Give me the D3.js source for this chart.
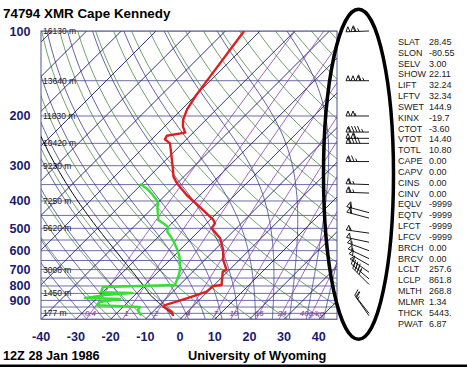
<!DOCTYPE html>
<html><head><meta charset="utf-8">
<script src="https://cdn.jsdelivr.net/npm/d3@7"></script>
<style>
html,body{margin:0;padding:0;background:#fff;}
svg{display:block;}
</style></head>
<body>
<svg id="c" width="467" height="367"></svg>
<script>
// ---------------- data ----------------
const title = "74794 XMR Cape Kennedy";
const dateLabel = "12Z 28 Jan 1986";
const sourceLabel = "University of Wyoming";
const pressureTicks = [100,200,300,400,500,600,700,800,900];
const tempTicks = [-40,-30,-20,-10,0,10,20,30,40];
const heightLevels = [100,150,200,250,300,400,500,700,850,1000];
const heightLabels = ["16130 m","13640 m","11830 m","10420 m","9230 m","7250 m","5620 m","3008 m","1450 m","177 m"];
const mixingRatios = [0.4,1,2,4,7,10,16,24,40];
const mixingLabels = ["0.4","1","2","4","7","10","16","24","40g/kg"];

const tempPres = [1020,987,948,935,885,838,800,794,712,702,648,597,542,500,480,467,431,381,346,328,311,271,250,242,235,229,218,207,190,171,153,100];
const tempVals = [-3.0,-4.6,-8.4,-8.4,-4.1,-0.3,0.0,2.1,-1.4,-0.8,-4.6,-7.5,-11.8,-17.1,-17.6,-19.0,-24.8,-33.9,-40.1,-43.0,-45.0,-50.4,-53.6,-56.2,-56.7,-52.3,-54.7,-56.5,-58.4,-59.8,-60.8,-64.6];

const dewPres = [1020,974,950,935,912,890,883,861,847,841,807,794,742,702,630,597,558,535,514,494,480,467,455,425,408,397,376,361,348];
const dewVals = [-12.2,-14.8,-15.1,-28.0,-28.0,-23.1,-33.5,-28.6,-21.4,-30.6,-31.5,-11.3,-12.8,-14.2,-18.2,-20.7,-24.1,-26.5,-28.9,-30.1,-32.5,-34.9,-35.8,-38.5,-39.7,-41.1,-44.5,-47.3,-50.5];

const windPres = [100,150,200,228,240,250,290,350,375,440,460,520,560,600,640,675,715,755,790,1000,1020];
const windDir  = [268,270,270,270,270,270,270,272,272,285,285,278,282,290,295,300,305,310,315,322,325];
const windSpd  = [115,165,105,95,110,90,75,65,65,60,60,55,50,55,55,50,50,45,40,20,15];

const indexNames  = ["SLAT","SLON","SELV","SHOW","LIFT","LFTV","SWET","KINX","CTOT","VTOT","TOTL","CAPE","CAPV","CINS","CINV","EQLV","EQTV","LFCT","LFCV","BRCH","BRCV","LCLT","LCLP","MLTH","MLMR","THCK","PWAT"];
const indexValues = ["28.45","-80.55","3.00","22.11","32.24","32.34","144.9","-19.7","-3.60","14.40","10.80","0.00","0.00","0.00","0.00","-9999","-9999","-9999","-9999","0.00","0.00","257.6","861.8","268.8","1.34","5443.","6.87"];

// ---------------- layout ----------------
const plotL = 41, plotR = 337, plotT = 31, plotB = 319.3;
const yScale = d3.scaleLog().domain([100,1050]).range([plotT, plotB]);
const tScale = d3.scaleLinear().domain([-40,40]).range([41.2, 318.8]);
const skewX = (T,p) => tScale(T) + (plotB - yScale(p));
const navy = "#1c1c6c";

const svg = d3.select("#c");
svg.append("rect").attr("width",467).attr("height",367).attr("fill","#fff");

const defs = svg.append("defs");
defs.append("clipPath").attr("id","clip").append("rect")
  .attr("x",plotL).attr("y",plotT).attr("width",plotR-plotL).attr("height",plotB-plotT);

const bg = svg.append("g").attr("clip-path","url(#clip)");
const line = d3.line().x(d=>skewX(d[1],d[0])).y(d=>yScale(d[0]));

// thermo helpers (for guide lines)
const es = Tc => 6.112*Math.exp(17.67*Tc/(Tc+243.5));
const tdFromE = e => { const l=Math.log(e/6.112); return 243.5*l/(17.67-l); };
function dTdp(p,T){
  const Tc=T-273.15, e=es(Tc), rs=0.622*e/(p-e);
  const Rd=287.04, cp=1005.7, Lv=2.501e6;
  return (Rd*T + Lv*rs)/(p*(cp + Lv*Lv*rs*0.622/(Rd*T*T)));
}
function moist(p0,T0K,pEnd,step){
  const pts=[]; let p=p0, T=T0K;
  pts.push([p,T-273.15]);
  while((step<0 && p>pEnd) || (step>0 && p<pEnd)){
    const k1=dTdp(p,T), k2=dTdp(p+step/2,T+k1*step/2), k3=dTdp(p+step/2,T+k2*step/2), k4=dTdp(p+step,T+k3*step);
    T += step*(k1+2*k2+2*k3+k4)/6; p += step;
    pts.push([p,T-273.15]);
  }
  return pts;
}
const pLevels = d3.range(1050,99,-10);

// isobars
d3.range(100,1051,50).forEach(p=>{
  bg.append("line").attr("x1",plotL).attr("x2",plotR).attr("y1",yScale(p)).attr("y2",yScale(p))
    .attr("stroke","#6e6ea8").attr("stroke-width",1);
});
// dry adiabats
d3.range(230,470,10).forEach(th=>{
  const pts = pLevels.map(p=>[p, th*Math.pow(p/1000,0.2857)-273.15]);
  bg.append("path").attr("d",line(pts)).attr("fill","none").attr("stroke","#4a8c4a").attr("stroke-width",0.8);
});
// moist adiabats
d3.range(-30,45,5).forEach(t0=>{
  const up = moist(1000,t0+273.15,100,-5);
  const dn = moist(1000,t0+273.15,1050,5).reverse();
  const pts = dn.concat(up.slice(1));
  bg.append("path").attr("d",line(pts)).attr("fill","none").attr("stroke","#3a3a8a").attr("stroke-width",0.8);
});
// isotherms
d3.range(-130,51,10).forEach(T=>{
  bg.append("line").attr("x1",skewX(T,1050)).attr("y1",yScale(1050)).attr("x2",skewX(T,100)).attr("y2",yScale(100))
    .attr("stroke","#1e1e70").attr("stroke-width",0.9);
});
// mixing ratio lines
mixingRatios.forEach(w=>{
  const pts = pLevels.map(p=>[p, tdFromE(w*p/(622+w))]);
  bg.append("path").attr("d",line(pts)).attr("fill","none").attr("stroke","#8a3cb0").attr("stroke-width",0.8);
});

// border
svg.append("rect").attr("x",plotL).attr("y",plotT).attr("width",plotR-plotL).attr("height",plotB-plotT)
  .attr("fill","none").attr("stroke","#505090").attr("stroke-width",1);

// height labels
heightLevels.forEach((p,i)=>{
  svg.append("text").attr("x",43).attr("y",yScale(p)+3).text(heightLabels[i])
    .attr("font-family","Liberation Sans, Arial, sans-serif").attr("font-size",8.5).attr("fill","#222");
});
// mixing ratio labels
mixingRatios.forEach((w,i)=>{
  svg.append("text").attr("x",skewX(tdFromE(w*1000/(622+w)),1000)).attr("y",yScale(1000)+3)
    .attr("text-anchor","middle").text(mixingLabels[i])
    .attr("font-family","Liberation Sans, Arial, sans-serif").attr("font-size",8).attr("font-style","italic").attr("fill","#7a30a0");
});

// parcel path from indices
const MLTH = +indexValues[indexNames.indexOf("MLTH")];
const LCLP = +indexValues[indexNames.indexOf("LCLP")];
const LCLT = +indexValues[indexNames.indexOf("LCLT")];
const parcelDry = d3.range(tempPres[0], LCLP, -5).map(p=>[p, MLTH*Math.pow(p/1000,0.2857)-273.15]).concat([[LCLP, LCLT-273.15]]);
const parcel = parcelDry.concat(moist(LCLP, LCLT, 100, -5).slice(1));
const dataG = svg.append("g").attr("clip-path","url(#clip)");
dataG.append("path").attr("d",line(parcel)).attr("fill","none").attr("stroke","#000").attr("stroke-width",1);

// temperature & dewpoint
dataG.append("path").attr("d",line(tempPres.map((p,i)=>[p,tempVals[i]])))
  .attr("fill","none").attr("stroke","#dd1f1f").attr("stroke-width",2.4).attr("stroke-linejoin","round");
dataG.append("path").attr("d",line(dewPres.map((p,i)=>[p,dewVals[i]])))
  .attr("fill","none").attr("stroke","#35e035").attr("stroke-width",2.4).attr("stroke-linejoin","round");

// axis labels
const boldFont = "Liberation Sans, Arial, sans-serif";
pressureTicks.forEach(p=>{
  svg.append("text").attr("x",30.5).attr("y",yScale(p)+4.5).attr("text-anchor","end").text(p)
    .attr("font-family",boldFont).attr("font-weight","bold").attr("font-size",12.6).attr("fill",navy);
});
tempTicks.forEach(t=>{
  svg.append("text").attr("x",tScale(t)).attr("y",340.5).attr("text-anchor","middle").text(t)
    .attr("font-family",boldFont).attr("font-weight","bold").attr("font-size",12.6).attr("fill",navy);
});

// titles
svg.append("text").attr("x",3).attr("y",18).text(title)
  .attr("font-family",boldFont).attr("font-weight","bold").attr("font-size",13.4).attr("fill","#000");
svg.append("text").attr("x",3).attr("y",360).text(dateLabel)
  .attr("font-family",boldFont).attr("font-weight","bold").attr("font-size",12.7).attr("fill","#000");
svg.append("text").attr("x",188).attr("y",360).text(sourceLabel)
  .attr("font-family",boldFont).attr("font-weight","bold").attr("font-size",12.8).attr("fill","#000");
svg.append("rect").attr("x",0).attr("y",364.5).attr("width",467).attr("height",2.5).attr("fill","#000");

// indices
indexNames.forEach((n,i)=>{
  const y = 45 + i*10.83;
  svg.append("text").attr("x",398).attr("y",y).text(n)
    .attr("font-family",boldFont).attr("font-size",9).attr("fill","#222");
  svg.append("text").attr("x",429).attr("y",y).text(indexValues[i])
    .attr("font-family",boldFont).attr("font-size",9).attr("fill","#222");
});

// wind barbs
const barbG = svg.append("g").attr("stroke","#000").attr("stroke-width",0.9).attr("fill","none");
const stationX = 369, staffL = 23, featherL = 6, sp = 3;
windPres.forEach((p,i)=>{
  const y0 = yScale(p), a = windDir[i]*Math.PI/180;
  const ux = Math.sin(a), uy = -Math.cos(a);
  const px = -uy, py = ux;
  const ex = stationX + ux*staffL, ey = y0 + uy*staffL;
  barbG.append("line").attr("x1",stationX).attr("y1",y0).attr("x2",ex).attr("y2",ey);
  let s = Math.round(windSpd[i]/5)*5;
  let d = 0;
  const at = k => [ex - ux*k, ey - uy*k];
  while(s>=50){
    const b1 = at(d), b2 = at(d+4);
    const ap = at(d+2);
    barbG.append("path").attr("d",`M${b1[0]},${b1[1]}L${ap[0]+px*5},${ap[1]+py*5}L${b2[0]},${b2[1]}`);
    d += 5; s -= 50;
  }
  while(s>=10){
    const b = at(d);
    barbG.append("line").attr("x1",b[0]).attr("y1",b[1]).attr("x2",b[0]+px*featherL+ux*2.5).attr("y2",b[1]+py*featherL+uy*2.5);
    d += sp; s -= 10;
  }
  if(s>=5){
    if(d===0) d = sp;
    const b = at(d);
    barbG.append("line").attr("x1",b[0]).attr("y1",b[1]).attr("x2",b[0]+px*featherL*0.5+ux*1.3).attr("y2",b[1]+py*featherL*0.5+uy*1.3);
  }
});

// annotation ellipse
svg.append("ellipse").attr("cx",358.5).attr("cy",174.3).attr("rx",35).attr("ry",165)
  .attr("fill","none").attr("stroke","#000").attr("stroke-width",3.5);
</script>
</body></html>
